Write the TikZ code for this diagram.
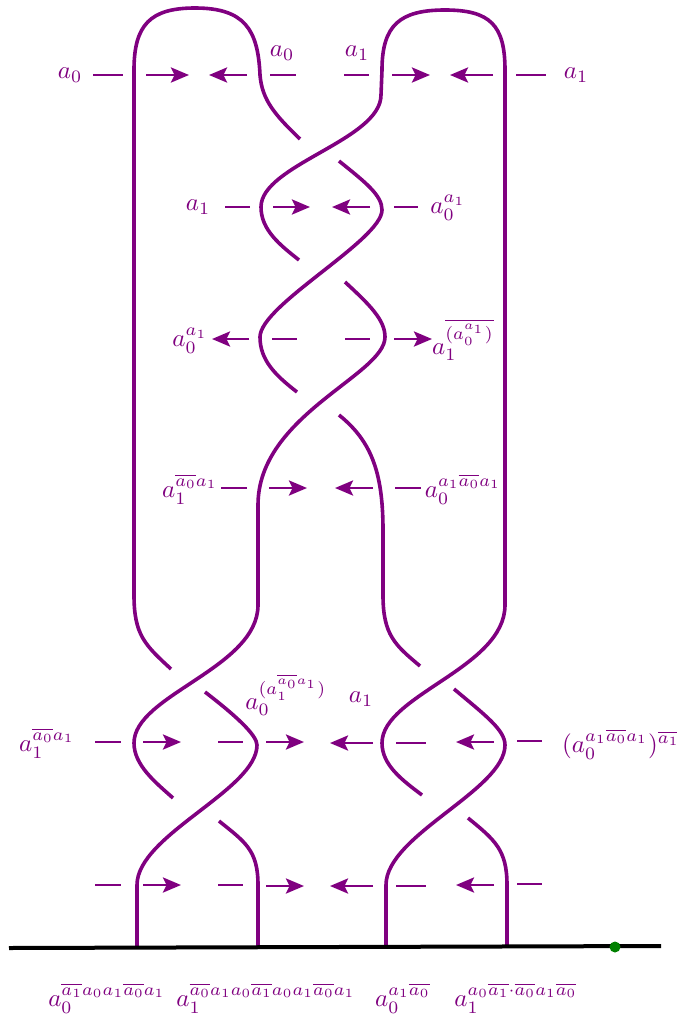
\documentclass[tikz,border=0pt]{standalone}
\usetikzlibrary{arrows.meta}
\definecolor{knot}{HTML}{800080}
\definecolor{dot}{HTML}{008000}
\tikzset{
  strand/.style={draw=knot,line width=3.6pt,line cap=butt,line join=round},
  tick/.style={draw=knot,line width=2.8pt},
  arc/.style={draw=knot,line width=2.8pt,-{Stealth[length=18pt,width=15pt,inset=3.5pt]}},
  lbl/.style={text=knot,scale=2.5,inner sep=0pt,outer sep=0pt},
}
\begin{document}
\begin{tikzpicture}[x=1pt,y=-1pt]
\useasboundingbox[fill=white] (0,0) rectangle (677,1023);
% strands
\draw[strand] (300,139) .. controls (275,115) and (262,100) .. (260,75)
  .. controls (258,30) and (245,8) .. (195,8)
  .. controls (150,8) and (134,25) .. (134,70) -- (134,595)
  .. controls (134,635) and (145,645) .. (171,669);
\draw[strand] (505,605) -- (505,70) .. controls (505,25) and (490,10) .. (445,10)
  .. controls (400,10) and (382,25) .. (382,70) -- (381,95)
  .. controls (381,140) and (261,165) .. (261,207)
  .. controls (261,230) and (280,245) .. (299,260);
\draw[strand] (339,161) .. controls (365,182) and (382,195) .. (382,210)
  .. controls (382,240) and (260,305) .. (260,337)
  .. controls (260,360) and (275,375) .. (297,392);
\draw[strand] (345,282) .. controls (370,305) and (385,320) .. (385,337)
  .. controls (385,375) and (258,415) .. (258,505) -- (258,605)
  .. controls (258,668) and (134,695) .. (134,743)
  .. controls (134,765) and (155,782) .. (173,798);
\draw[strand] (339,415) .. controls (370,440) and (383,470) .. (383,530) -- (383,595)
  .. controls (383,635) and (395,645) .. (420,666);
\draw[strand] (505,605) .. controls (505,668) and (382,695) .. (382,743)
  .. controls (382,765) and (402,780) .. (422,795);
\draw[strand] (205,692) .. controls (235,715) and (257,735) .. (257,745)
  .. controls (257,790) and (137,835) .. (137,885) -- (137,946);
\draw[strand] (219,821) .. controls (245,842) and (258,850) .. (258,885) -- (258,946);
\draw[strand] (454,689) .. controls (485,715) and (505,730) .. (505,745)
  .. controls (505,790) and (386,835) .. (386,885) -- (386,946);
\draw[strand] (468,818) .. controls (495,840) and (507,850) .. (507,885) -- (507,946);
% row 1
\draw[tick] (93,75) -- (123,75);
\draw[arc] (146,75) -- (189,75);
\draw[arc] (247,75) -- (209,75);
\draw[tick] (270,75) -- (296,75);
\draw[tick] (344,75) -- (369,75);
\draw[arc] (392,75) -- (430,75);
\draw[arc] (493,75) -- (450,75);
\draw[tick] (516,75) -- (546,75);
% row 2
\draw[tick] (225,207) -- (250,207);
\draw[arc] (273,207) -- (310,207);
\draw[arc] (370,207) -- (332,207);
\draw[tick] (394,207) -- (418,207);
% row 3
\draw[arc] (249,339) -- (212,339);
\draw[tick] (272,339) -- (297,339);
\draw[tick] (345,339) -- (370,339);
\draw[arc] (394,339) -- (432,339);
% row 4
\draw[tick] (221,488) -- (247,488);
\draw[arc] (269,488) -- (307,488);
\draw[arc] (373,488) -- (335,488);
\draw[tick] (395,488) -- (421,488);
% row 5
\draw[tick] (95,742) -- (121,742);
\draw[arc] (143,742) -- (181,742);
\draw[tick] (218,742) -- (243,742);
\draw[arc] (266,742) -- (304,742);
\draw[arc] (373,743) -- (330,743);
\draw[tick] (396,743) -- (426,743);
\draw[arc] (494,742) -- (456,742);
\draw[tick] (517,741) -- (542,741);
% row 6
\draw[tick] (95,885) -- (121,885);
\draw[arc] (143,885) -- (181,885);
\draw[tick] (218,885) -- (243,885);
\draw[arc] (266,886) -- (304,886);
\draw[arc] (373,886) -- (330,886);
\draw[tick] (396,886) -- (426,886);
\draw[arc] (494,885) -- (456,885);
\draw[tick] (517,884) -- (542,884);
% base line
\coordinate (bl) at (9,948);
\coordinate (br) at (661,946);
\draw[black,line width=4pt] (bl) -- (br);
\node[circle,fill=dot,minimum size=11pt,inner sep=0pt] (pt) at (615,947) {};
% labels
\node[lbl] (l01) at (70,75) {$a_0$};
\node[lbl] (l02) at (282,53) {$a_0$};
\node[lbl] (l03) at (357,53) {$a_1$};
\node[lbl] (l04) at (576,75) {$a_1$};
\node[lbl] (l05) at (198,207) {$a_1$};
\node[lbl] (l06) at (448,208) {$a_0^{a_1}$};
\node[lbl] (l07) at (190,341) {$a_0^{a_1}$};
\node[lbl] (l08) at (463,340) {$a_1^{\overline{(a_0^{a_1})}}$};
\node[lbl] (l09) at (190,489) {$a_1^{\overline{a_0}a_1}$};
\node[lbl] (l10) at (463,489) {$a_0^{a_1\overline{a_0}a_1}$};
\node[lbl] (l11) at (286,695) {$a_0^{(a_1^{\overline{a_0}a_1})}$};
\node[lbl] (l12) at (361,699) {$a_1$};
\node[lbl] (l13) at (47,743) {$a_1^{\overline{a_0}a_1}$};
\node[lbl] (l14) at (621,744) {$(a_0^{a_1\overline{a_0}a_1})^{\overline{a_1}}$};
\node[lbl] (l15) at (107,998) {$a_0^{\overline{a_1}a_0a_1\overline{a_0}a_1}$};
\node[lbl] (l16) at (266,998) {$a_1^{\overline{a_0}a_1a_0\overline{a_1}a_0a_1\overline{a_0}a_1}$};
\node[lbl] (l17) at (403,998) {$a_0^{a_1\overline{a_0}}$};
\node[lbl] (l18) at (516,998) {$a_1^{a_0\overline{a_1}\cdot\overline{a_0}a_1\overline{a_0}}$};
\end{tikzpicture}
\end{document}
